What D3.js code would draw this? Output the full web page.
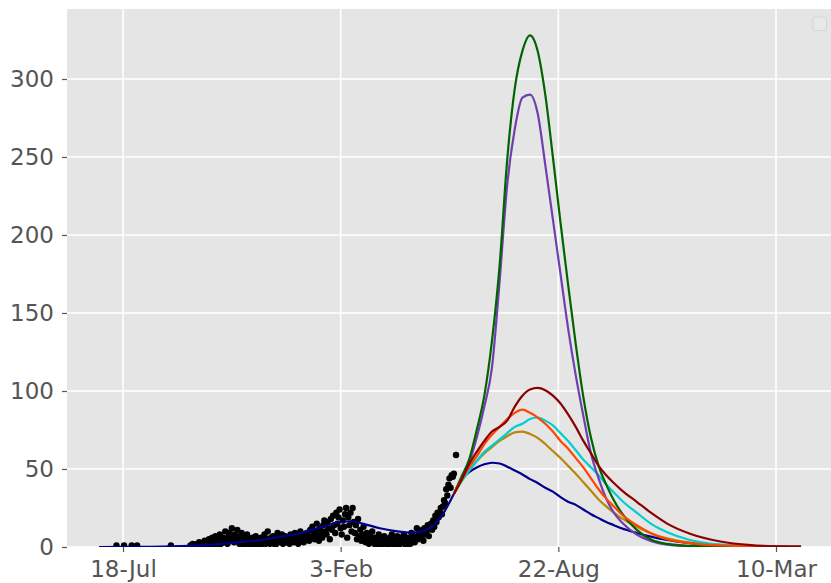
<!DOCTYPE html>
<html>
<head>
<meta charset="utf-8">
<script src="https://cdn.jsdelivr.net/npm/d3@7"></script>
<style>
  html, body { margin: 0; padding: 0; background: #ffffff; }
  svg { display: block; font-family: "DejaVu Sans", sans-serif; }
</style>
</head>
<body>
<svg id="chart" width="831" height="583"></svg>
<script>
// ---------------- DATA ----------------
const tickDates  = ["2020-07-18", "2021-02-03", "2021-08-22", "2022-03-10"];
const tickLabels = ["18-Jul", "3-Feb", "22-Aug", "10-Mar"];
const yTicks = [0, 50, 100, 150, 200, 250, 300];

// observed daily counts (null = no report), starting 2020-07-11
const obsStart = "2020-07-11";
const obsValues = [
  null,1,null,null,null,null,null,null,1,null,
  null,null,null,null,null,1,null,null,null,null,
  1,null,null,null,null,null,null,null,null,null,
  null,null,null,null,null,null,null,null,null,null,
  null,null,null,null,null,null,null,null,null,null,
  null,1,null,null,null,null,null,null,null,null,
  null,null,null,null,null,null,null,null,null,1,
  null,2,1,null,null,2,null,3,1,null,
  2,1,4,null,3,2,5,1,3,6,
  2,4,7,3,1,5,8,2,4,6,
  3,10,5,2,7,9,4,12,6,3,
  8,5,11,4,2,7,9,3,1,6,
  4,8,2,5,3,1,6,4,2,7,
  3,5,1,4,6,2,3,8,2,5,
  10,4,2,6,3,7,5,1,4,9,
  6,3,5,8,2,4,7,3,6,5,
  2,8,4,6,3,9,5,7,2,6,
  10,4,8,3,6,5,9,7,4,11,
  6,13,8,5,10,15,7,4,12,9,
  6,14,17,10,8,16,12,5,18,11,
  20,14,9,22,15,19,24,12,8,17,
  13,21,25,6,19,14,22,10,25,16,
  9,14,5,18,7,11,4,8,13,6,
  3,9,5,2,7,4,10,3,6,1,
  5,2,8,4,1,6,3,7,2,5,
  4,1,6,3,8,2,5,4,1,7,
  3,6,2,5,4,8,3,1,6,4,
  5,2,9,4,7,3,6,12,5,8,
  9,6,11,4,12,8,10,14,7,12,
  15,11,17,13,20,16,22,19,22,25,
  21,26,30,28,37,33,40,44,38,46,
  45,47,null,59
];

// fitted curve before the scenarios branch
const fitDates = ["2020-06-26","2020-08-12","2020-09-08","2020-09-27","2020-10-24","2020-11-21",
  "2020-12-09","2020-12-28","2021-01-15","2021-02-02","2021-02-12","2021-02-23","2021-03-11",
  "2021-03-27","2021-04-10","2021-04-21","2021-05-01","2021-05-08","2021-05-12","2021-05-18"];
const fitValues = [0,0.1,0.5,1,2.5,4.5,6.5,9,12.5,16,16.5,15,12,10,9.2,10.5,15,21,26,34];

// scenario projections (shared dates)
const projDates = ["2021-05-18","2021-05-25","2021-06-01","2021-06-08","2021-06-15","2021-06-22",
  "2021-06-29","2021-07-06","2021-07-13","2021-07-20","2021-07-27","2021-08-03","2021-08-10",
  "2021-08-17","2021-08-24","2021-08-31","2021-09-07","2021-09-14","2021-09-21","2021-09-28",
  "2021-10-05","2021-10-12","2021-10-19","2021-11-02","2021-11-16","2021-11-30","2021-12-21",
  "2022-01-18","2022-02-15","2022-03-15","2022-04-02"];
const projNavy = [34,43,48,51,53,54,53.5,51.5,49,46.5,43.5,41,38,35.5,32,29,27,24,21,18.5,16,14,12,9,6.5,4.5,2.5,1.2,0.5,0.2,0.1];
const projGold = [34,42,49,55,60,64,68,71,73.5,74,72.5,70,66,61.5,57,52,47,41.5,36,30.5,26,22,18.5,13,8.5,5.5,2.8,1.2,0.5,0.2,0.1];
const projCyan = [34,42,49,55,61,65,69,73,77,79,82,83,81,78,73,68,62,56,51,46,40,35,30,22,14.5,9.5,4.5,1.5,0.6,0.2,0.1];
const projPurple = [34,44,54,70,90,115,170,232,268,288,290,278,245,210,175,140,110,84,60,44,31,22,16,8,3.5,1.5,0.5,0.2,0.1,0.05,0.02];
const projGreen = [34,45,56,75,97,132,180,248,294,318,328,318,290,250,208,168,130,96,70,52,40,30,22,11,4.5,2,0.7,0.2,0.1,0.05,0.02];
const projOrange = [34,43,51,58,66,72,77,82,86,88,86,83,79,74,68,63,57,51,44,37,31,26,21,14,8.5,5,2.5,1,0.4,0.15,0.1];
const projDarkRed = [34,43,53,61,68,74,77,81,90,97,101,102,100.5,97,92,85,77,68,60,52,46,41,36.5,29,21.5,15,8.5,3.5,1.2,0.4,0.2];

const seriesNames = ["navy","gold","cyan","purple","green","orange","darkred"];
const seriesValues = [projNavy, projGold, projCyan, projPurple, projGreen, projOrange, projDarkRed];
const seriesColors = ["#00008B","#B8860B","#00CED1","#6F3FB0","#006400","#FF4500","#8B0000"];

// ---------------- DRAW ----------------
const parse = d3.utcParse("%Y-%m-%d");
const svg = d3.select("#chart");
const plot = { left: 67, top: 9, right: 836, bottom: 547 };
const FONT = "DejaVu Sans";

const x = d3.scaleUtc()
  .domain([parse(tickDates[0]), parse(tickDates[3])])
  .range([123, 776]);
const y = d3.scaleLinear().domain([0, 300]).range([547, 79]);

svg.append("defs").append("clipPath").attr("id", "clip")
  .append("rect").attr("x", plot.left).attr("y", plot.top)
  .attr("width", plot.right - plot.left).attr("height", plot.bottom - plot.top);

svg.append("rect").attr("x", plot.left).attr("y", plot.top)
  .attr("width", plot.right - plot.left).attr("height", plot.bottom - plot.top)
  .attr("fill", "#E5E5E5");

// grid
const grid = svg.append("g").attr("clip-path", "url(#clip)");
grid.selectAll("line.gx").data(tickDates).enter().append("line")
  .attr("x1", d => x(parse(d))).attr("x2", d => x(parse(d)))
  .attr("y1", plot.top).attr("y2", plot.bottom)
  .attr("stroke", "#ffffff").attr("stroke-width", 1.6);
grid.selectAll("line.gy").data(yTicks).enter().append("line")
  .attr("x1", plot.left).attr("x2", plot.right)
  .attr("y1", d => y(d)).attr("y2", d => y(d))
  .attr("stroke", "#ffffff").attr("stroke-width", 1.6);

// axes
const xAxis = d3.axisBottom(x)
  .tickValues(tickDates.map(parse))
  .tickFormat((d, i) => tickLabels[i])
  .tickSize(5).tickPadding(9);
const gx = svg.append("g").attr("transform", `translate(0,${plot.bottom})`).call(xAxis)
  .attr("font-family", FONT);
gx.select(".domain").remove();
gx.selectAll("line").attr("stroke", "#555555").attr("stroke-width", 1.2);
gx.selectAll("text").attr("fill", "#555555").attr("font-family", FONT).style("font-size", "23px")
  .attr("y", 14).attr("dy", "0.71em");

const yAxis = d3.axisLeft(y).tickValues(yTicks).tickSize(5).tickPadding(8);
const gy = svg.append("g").attr("transform", `translate(${plot.left},0)`).call(yAxis)
  .attr("font-family", FONT);
gy.select(".domain").remove();
gy.selectAll("line").attr("stroke", "#555555").attr("stroke-width", 1.2);
gy.selectAll("text").attr("fill", "#555555").attr("font-family", FONT).style("font-size", "23px");

const content = svg.append("g").attr("clip-path", "url(#clip)");

// observations
const start = parse(obsStart);
const obs = obsValues.map((v, i) => ({ date: d3.utcDay.offset(start, i), v }))
  .filter(d => d.v !== null);
content.selectAll("circle.obs").data(obs).enter().append("circle")
  .attr("cx", d => x(d.date)).attr("cy", d => y(d.v)).attr("r", 3.2)
  .attr("fill", "#000000");

const line = d3.line().x(d => x(d.date)).y(d => y(d.v)).curve(d3.curveMonotoneX);

// fitted + navy projection
const navyData = fitDates.map((d, i) => ({ date: parse(d), v: fitValues[i] }))
  .concat(projDates.slice(1).map((d, i) => ({ date: parse(d), v: projNavy[i + 1] })));
content.append("path").datum(navyData).attr("d", line)
  .attr("fill", "none").attr("stroke", seriesColors[0]).attr("stroke-width", 2.2)
  .attr("stroke-linejoin", "round");

seriesValues.forEach((vals, k) => {
  if (k === 0) return;
  const data = projDates.map((d, i) => ({ date: parse(d), v: vals[i] }));
  content.append("path").datum(data).attr("d", line)
    .attr("fill", "none").attr("stroke", seriesColors[k]).attr("stroke-width", 2.2)
    .attr("stroke-linejoin", "round");
});

// empty legend box
svg.append("rect").attr("x", 813).attr("y", 17).attr("width", 13.5).attr("height", 13.5)
  .attr("rx", 2.5).attr("fill", "#E8E8E8").attr("stroke", "#D6D6D6").attr("stroke-width", 1.2);
</script>
</body>
</html>
